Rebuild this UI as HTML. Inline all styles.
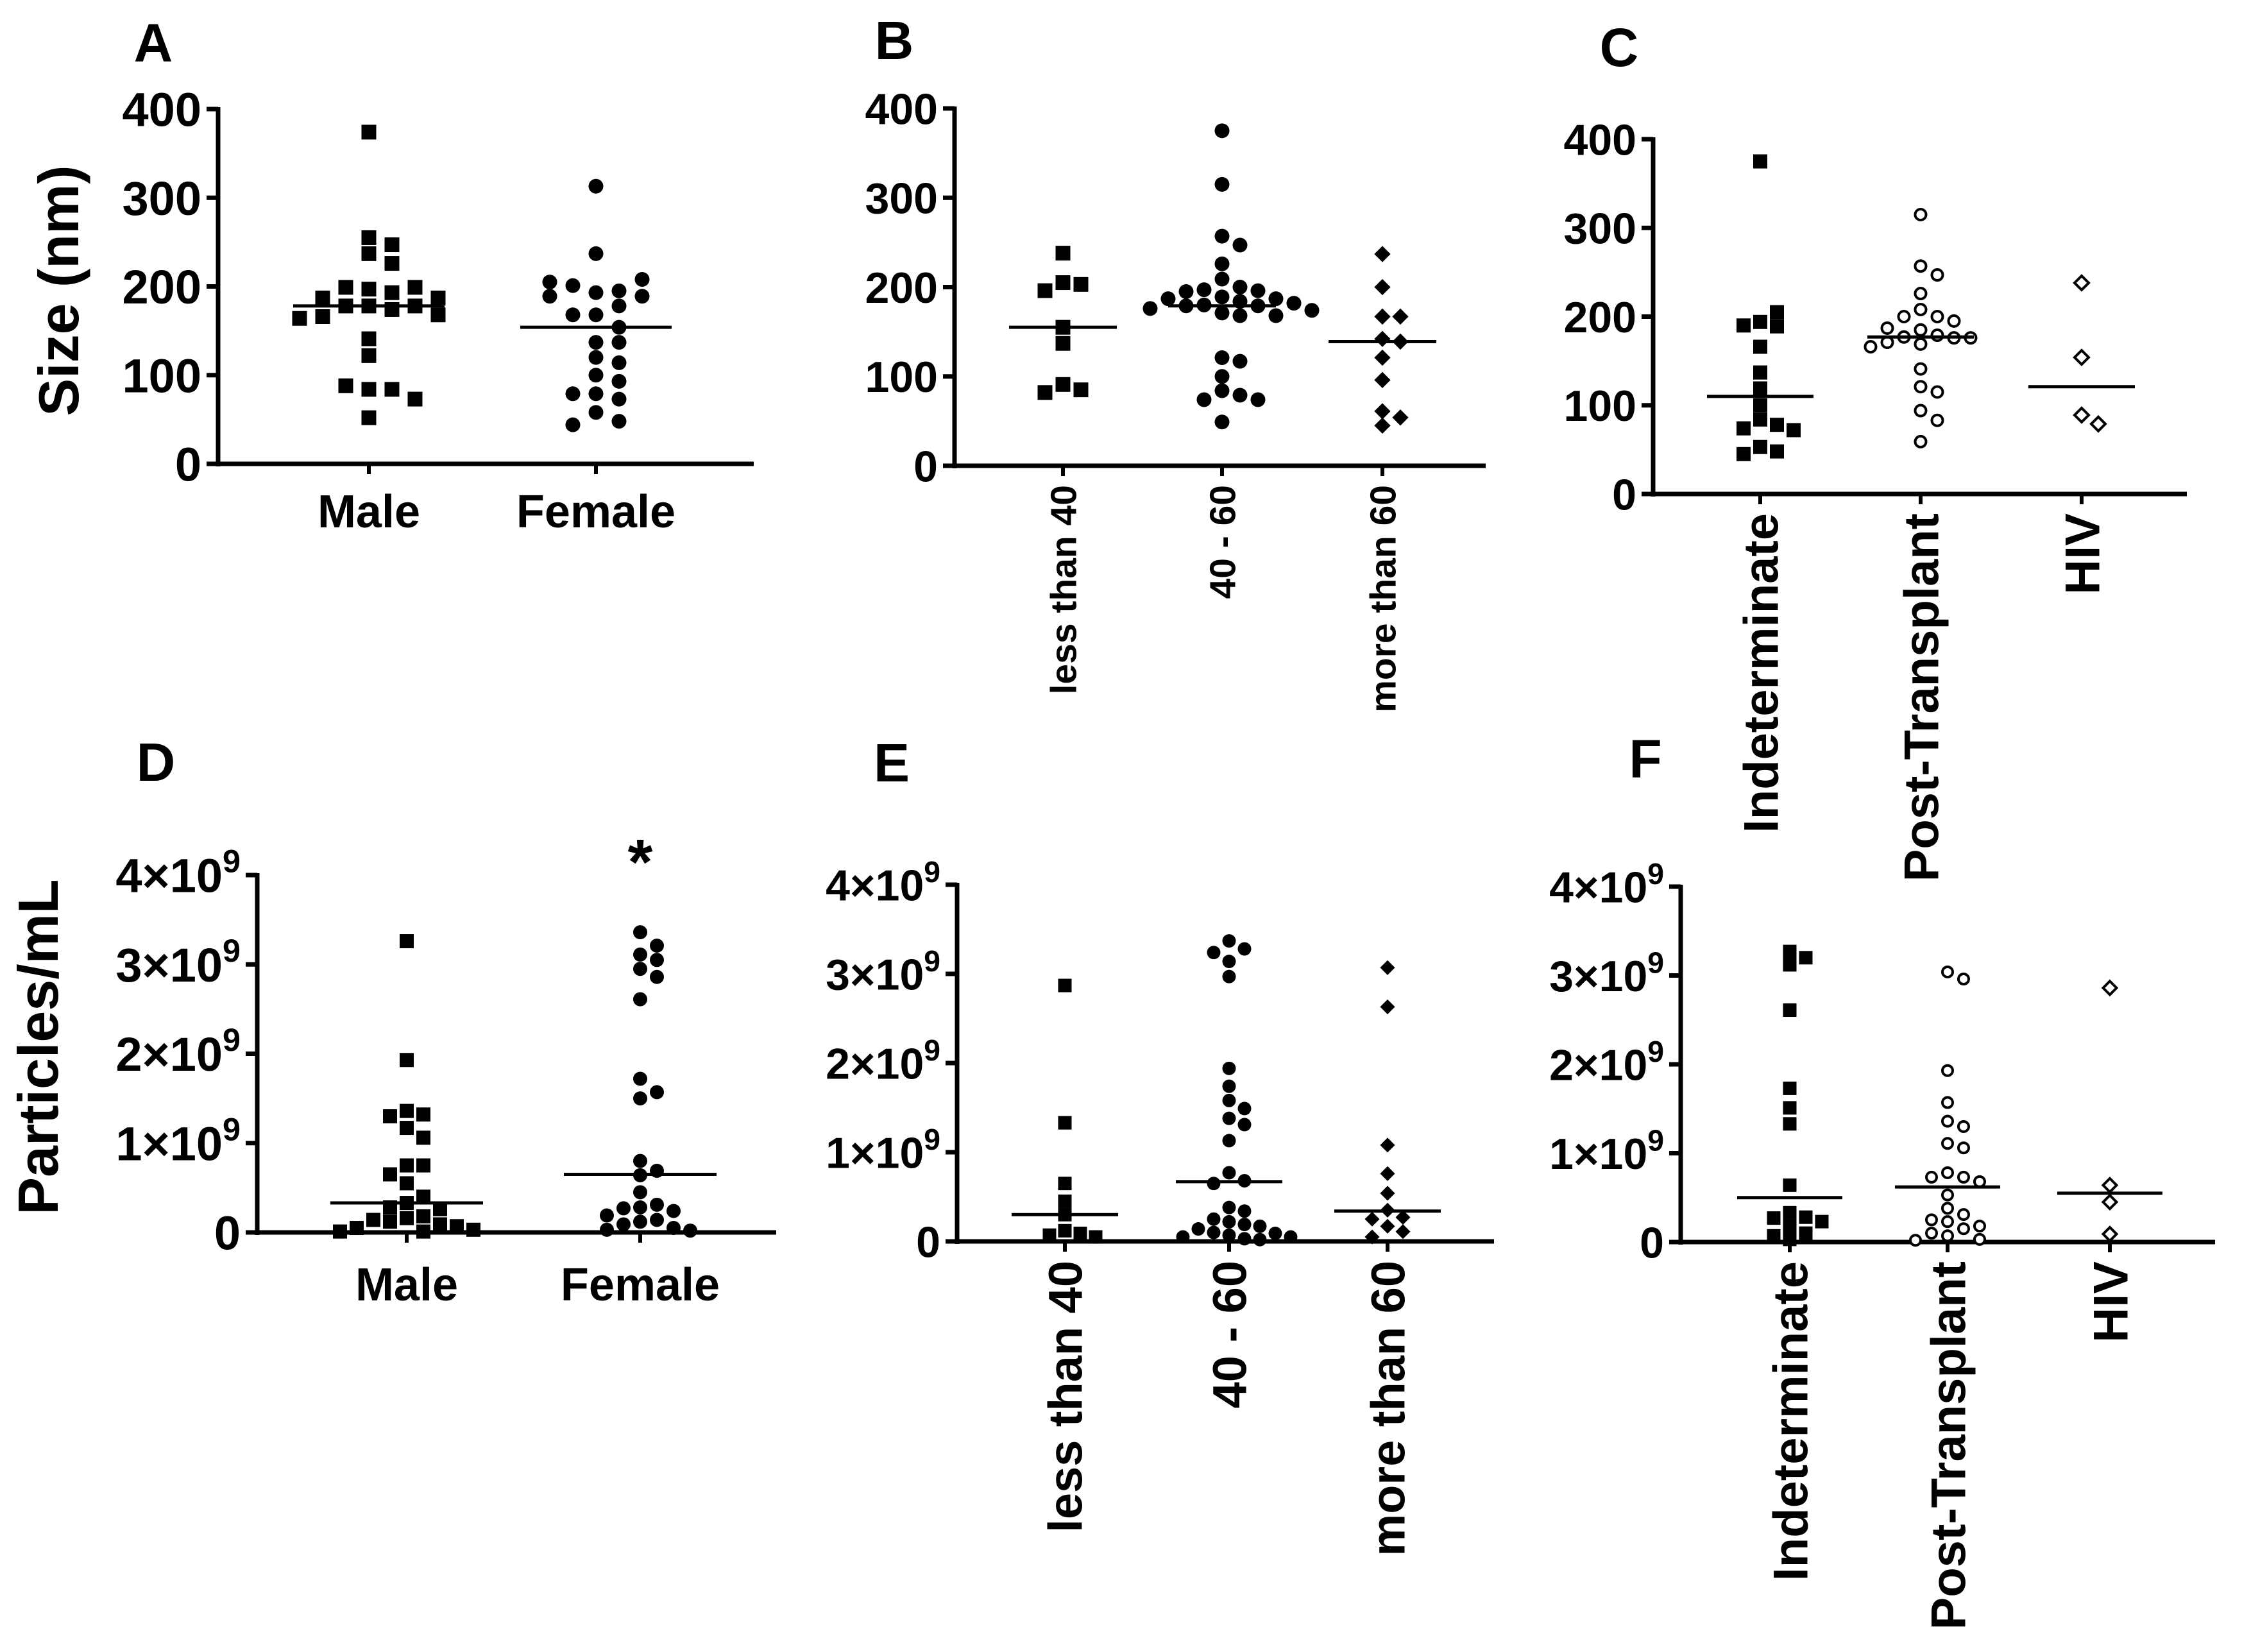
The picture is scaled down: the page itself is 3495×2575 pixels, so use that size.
<!DOCTYPE html>
<html><head><meta charset="utf-8"><style>
html,body{margin:0;padding:0;background:#fff;}
svg{display:block;font-family:"Liberation Sans",Arial,sans-serif;font-weight:bold;}
</style></head><body>
<svg id="fig" width="3495" height="2575" viewBox="0 0 3495 2575" xmlns="http://www.w3.org/2000/svg"></svg>
<script>
// ---- Panel A: size by sex (nm)
const aCats = ["Male","Female"];
const aMale = [374,255,237,247,226,197,193,199,199,187,187,178,178,178,174,166,168,164,141,122,84,84,88,73,52];
const aFemale = [313,237,193,195,201,208,205,189,189,178,168,168,154,137,137,120,114,100,93,79,79,73,58,48,44];
const aMedians = [178,154];
// ---- Panel B: size by age
const bCats = ["less than 40","40 - 60","more than 60"];
const bLess40 = [238,205,203,196,155,137,91,85,82];
const b40to60 = [375,315,257,247,226,209,200,197,196,195,189,187,187,184,182,180,179,179,176,174,171,168,168,121,117,100,84,79,74,74,49];
const bMore60 = [237,200,167,167,142,139,121,96,61,54,45];
const bMedians = [155,179,139];
// ---- Panel C: size by group
const cCats = ["Indeterminate","Post-Transplant","HIV"];
const cIndet = [375,194,189,205,190,166,137,119,100,84,78,74,72,53,48,45];
const cPost = [315,257,247,226,208,200,200,195,185,187,179,177,176,176,171,169,166,141,121,115,94,83,59];
const cHIV = [238,154,89,79];
const cMedians = [110,177,121];
// ---- Panel D: particles by sex (x1e9)
const dCats = ["Male","Female"];
const dMale = [3.26,1.93,1.36,1.32,1.30,1.17,1.06,0.75,0.75,0.65,0.55,0.40,0.33,0.28,0.26,0.18,0.16,0.14,0.12,0.09,0.07,0.05,0.03,0.01,0.01];
const dFemale = [3.36,3.21,3.11,3.05,2.95,2.86,2.61,1.72,1.57,1.50,0.80,0.69,0.64,0.45,0.31,0.28,0.27,0.24,0.19,0.14,0.12,0.09,0.05,0.03,0.02];
const dMedians = [0.33,0.65];
// ---- Panel E: particles by age
const eCats = ["less than 40","40 - 60","more than 60"];
const eLess40 = [2.87,1.33,0.65,0.45,0.30,0.12,0.09,0.07,0.05];
const e40to60 = [3.37,3.28,3.24,3.14,2.97,1.94,1.74,1.58,1.49,1.38,1.31,1.13,0.77,0.68,0.65,0.38,0.34,0.25,0.22,0.19,0.17,0.14,0.10,0.09,0.07,0.05,0.05,0.03,0.02];
const eMore60 = [3.07,2.63,1.08,0.76,0.54,0.35,0.27,0.25,0.17,0.11,0.05];
const eMedians = [0.30,0.67,0.34];
// ---- Panel F: particles by group
const fCats = ["Indeterminate","Post-Transplant","HIV"];
const fIndet = [3.27,3.20,3.12,2.61,1.73,1.51,1.33,0.64,0.33,0.28,0.27,0.23,0.18,0.10,0.07,0.03];
const fPost = [3.04,2.96,1.93,1.57,1.36,1.30,1.11,1.06,0.78,0.73,0.73,0.68,0.53,0.38,0.31,0.25,0.23,0.18,0.15,0.10,0.07,0.03,0.02];
const fHIV = [2.86,0.64,0.45,0.09];
const fMedians = [0.50,0.62,0.55];
const sizeTicks = [0,100,200,300,400];
const partTicks = [0,1,2,3,4];

const NS="http://www.w3.org/2000/svg";
const svg=document.getElementById('fig');
function mk(tag,attrs,parent){const e=document.createElementNS(NS,tag);for(const k in attrs)e.setAttribute(k,attrs[k]);(parent||svg).appendChild(e);return e;}

function panel(cfg){
  const g=mk('g',{});
  
  
  const sy=v=>cfg.y0-(v/cfg.max)*(cfg.y0-cfg.ytop);
  const L=mk('text',{x:cfg.letter[0],y:cfg.letter[1]+10,'font-size':84,'text-anchor':'middle'},g);
  L.textContent=cfg.id;
  
  
  const ya=mk('line',{x1:cfg.ax,y1:cfg.ytop-3,x2:cfg.ax,y2:cfg.y0+4,stroke:'#000','stroke-width':7},g);
  
  
  const xa=mk('line',{x1:cfg.ax-18,y1:cfg.y0,x2:cfg.xend,y2:cfg.y0,stroke:'#000','stroke-width':7},g);
  
  
  cfg.ticks.forEach(t=>{
    const y=sy(t);
    mk('line',{x1:cfg.ax-18,y1:y,x2:cfg.ax,y2:y,stroke:'#000','stroke-width':7},g);
    const tx=mk('text',{x:cfg.ax-26,y:y+cfg.tfs*0.36,'font-size':cfg.tfs,'text-anchor':'end'},g);
    
    
    if(cfg.sci && t>0){
      const s1=mk('tspan',{},tx);s1.textContent=t+'×10';
      const s2=mk('tspan',{dy:-cfg.tfs*0.42,'font-size':cfg.tfs*0.68},tx);s2.textContent='9';
    } else tx.textContent=String(t);
  });
  if(cfg.ytitle){
    const yt=mk('text',{x:0,y:0,'font-size':88,'text-anchor':'middle',transform:`translate(${cfg.ytitle[1]},${cfg.ytitle[2]}) rotate(-90)`},g);
    yt.textContent=cfg.ytitle[0];
    
    
  }
  cfg.cats.forEach((c,i)=>{
    const cx=cfg.cx[i];
    mk('line',{x1:cx,y1:cfg.y0,x2:cx,y2:cfg.y0+16,stroke:'#000','stroke-width':6},g);
    let t;
    if(cfg.rot){
      t=mk('text',{x:0,y:0,'font-size':cfg.cfs,'text-anchor':'end',transform:`translate(${cx+cfg.cfs*0.36},${cfg.y0+30}) rotate(-90)`},g);
    } else {
      t=mk('text',{x:cx,y:cfg.catY,'font-size':cfg.cfs,'text-anchor':'middle'},g);
    }
    t.textContent=c;
    
    
    const vals=cfg.series[i], type=cfg.markers[i], s=cfg.ms, dx=cfg.dx;
    const placed=[];
    vals.forEach(v=>{
      const y=sy(v);
      let x=cx;
      for(let k=0;k<20;k++){
        const off=(k===0?0:(k%2?1:-1)*Math.ceil(k/2))*dx;
        const tx=cx+off;
        if(!placed.some(p=>Math.abs(p.x-tx)<dx*0.9&&Math.abs(p.y-y)<s*0.95)){x=tx;break;}
      }
      placed.push({x,y});
      let m;
      if(type==='sq') m=mk('rect',{x:x-s/2,y:y-s/2,width:s,height:s,fill:'#000'},g);
      else if(type==='ci') m=mk('circle',{cx:x,cy:y,r:s/2,fill:'#000'},g);
      else if(type==='oc') m=mk('circle',{cx:x,cy:y,r:s/2-2.5,fill:'#fff',stroke:'#000','stroke-width':4},g);
      else if(type==='di'){const h=s*0.55;m=mk('polygon',{points:`${x},${y-h} ${x+h},${y} ${x},${y+h} ${x-h},${y}`,fill:'#000'},g);}
      else {const h=s*0.5;m=mk('polygon',{points:`${x},${y-h} ${x+h},${y} ${x},${y+h} ${x-h},${y}`,fill:'#fff',stroke:'#000','stroke-width':4},g);}
      
      
    });
    const my=sy(cfg.medians[i]);
    const ml=mk('line',{x1:cx-cfg.mw,y1:my,x2:cx+cfg.mw,y2:my,stroke:'#000','stroke-width':5},g);
    
    
  });
}

panel({id:'A',letter:[239,86],ax:340,ytop:170,y0:723,xend:1175,max:400,ticks:sizeTicks,tfs:74,sci:false,
  ytitle:['Size (nm)',122,453],cats:aCats,cx:[575,929],catY:822,cfs:72,rot:false,
  series:[aMale,aFemale],markers:['sq','ci'],medians:aMedians,ms:23,dx:36,mw:118});
panel({id:'B',letter:[1394,82],ax:1488,ytop:169,y0:726,xend:2316,max:400,ticks:sizeTicks,tfs:68,sci:false,
  cats:bCats,cx:[1657,1905,2155],cfs:57,rot:true,
  series:[bLess40,b40to60,bMore60],markers:['sq','ci','di'],medians:bMedians,ms:23,dx:28,mw:84});
panel({id:'C',letter:[2524,93],ax:2577,ytop:217,y0:770,xend:3409,max:400,ticks:sizeTicks,tfs:68,sci:false,
  cats:cCats,cx:[2744,2994,3245],cfs:76,rot:true,
  series:[cIndet,cPost,cHIV],markers:['sq','oc','od'],medians:cMedians,ms:22,dx:26,mw:83});
panel({id:'D',letter:[243,1207],ax:401,ytop:1364,y0:1921,xend:1210,max:4,ticks:partTicks,tfs:74,sci:true,
  ytitle:['Particles/mL',90,1632],cats:dCats,cx:[634,998],catY:2027,cfs:72,rot:false,
  series:[dMale,dFemale],markers:['sq','ci'],medians:dMedians,ms:22,dx:26,mw:119});
panel({id:'E',letter:[1390,1208],ax:1492,ytop:1379,y0:1935,xend:2329,max:4,ticks:partTicks,tfs:68,sci:true,
  cats:eCats,cx:[1660,1916,2163],cfs:74,rot:true,
  series:[eLess40,e40to60,eMore60],markers:['sq','ci','di'],medians:eMedians,ms:21,dx:24,mw:83});
panel({id:'F',letter:[2565,1202],ax:2620,ytop:1382,y0:1936,xend:3453,max:4,ticks:partTicks,tfs:68,sci:true,
  cats:fCats,cx:[2790,3036,3289],cfs:76,rot:true,
  series:[fIndet,fPost,fHIV],markers:['sq','oc','od'],medians:fMedians,ms:21,dx:25,mw:82});

const star=mk('text',{x:998,y:1378,'font-size':100,'text-anchor':'middle'});
star.textContent='*';


</script>
</body></html>
